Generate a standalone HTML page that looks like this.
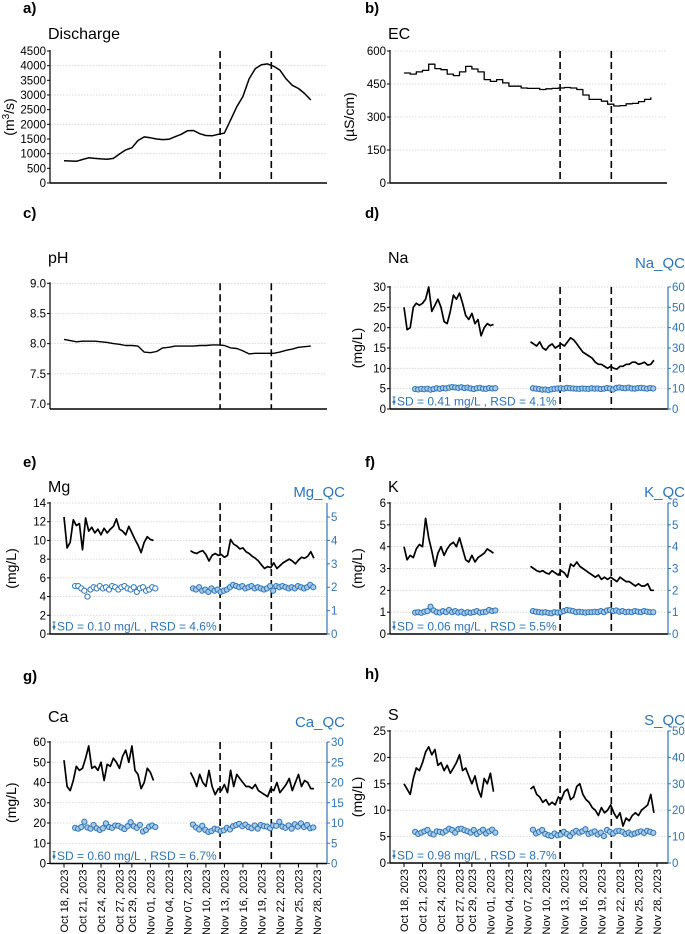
<!DOCTYPE html>
<html><head><meta charset="utf-8"><style>
html,body{margin:0;padding:0;background:#fff;}
svg{display:block;font-family:"Liberation Sans",sans-serif;}
</style></head><body>
<svg id="chart" width="685" height="934" viewBox="0 0 685 934" xmlns="http://www.w3.org/2000/svg"></svg>
<script>
// ---------- DATA ----------
const eventDays=[25.3,33.6];
const tickDays=[0,3,6,9,11,14,17,20,23,26,29,32,35,38,41];
const tickLabels=['Oct 18, 2023','Oct 21, 2023','Oct 24, 2023','Oct 27, 2023','Oct 29, 2023','Nov 01, 2023','Nov 04, 2023','Nov 07, 2023','Nov 10, 2023','Nov 13, 2023','Nov 16, 2023','Nov 19, 2023','Nov 22, 2023','Nov 25, 2023','Nov 28, 2023'];
const segStarts=[0,20.5];
const qcStarts=[1.8,20.9];
const dischargeVals=[760,750,740,800,860,840,820,810,840,990,1130,1200,1450,1570,1540,1500,1480,1490,1580,1660,1780,1790,1680,1620,1610,1660,1700,2150,2600,2950,3550,3900,4030,4060,3980,3850,3550,3330,3220,3050,2830];
const ecVals=[500,495,505,512,540,520,515,495,488,505,530,518,505,470,462,470,455,440,440,432,430,430,425,428,430,432,434,432,425,400,380,380,372,358,350,352,360,362,370,380,390];
const phVals=[8.07,8.05,8.03,8.04,8.04,8.04,8.03,8.02,8.0,7.99,7.97,7.97,7.96,7.86,7.85,7.87,7.93,7.94,7.96,7.96,7.96,7.96,7.97,7.97,7.98,7.98,7.97,7.93,7.92,7.88,7.83,7.84,7.84,7.84,7.84,7.86,7.89,7.91,7.94,7.95,7.96];
const naSeg1=[25,19.5,20,25,26,25.5,26,27,30,24,25.5,27,25,21.5,21,24,28,27,28.5,26,23,22,23.5,21,22,18,20,21,20.5,20.8];
const naSeg2=[16.5,16,15.5,16.5,15,14.5,15.5,16,15,15.5,16,15.5,16.5,17.5,17,16,15,14,13.5,13,12.5,11.5,11,11,10.5,10,10.5,10,9.8,10.5,10.5,11,11,11.5,11.5,11,11.2,11.5,10.8,11,12];
const naQc1=[9.8,9.6,9.9,9.7,10,9.5,9.8,10.2,9.9,10.3,10.1,10.5,10.8,10.6,10.4,10.7,10.3,10.5,10.1,9.8,10.2,10.4,10,9.9,10.3,10.1,10.2];
const naQc2=[10.2,10,9.8,9.5,9.6,9.3,9.7,9.9,10.1,10.2,10,10.4,10.2,10.1,10,9.9,10.1,10,9.9,10.2,10,10.1,9.8,10,10.3,10.1,9.6,10.4,10.6,10.3,10.2,10.5,10.1,10,10.3,10.4,10.2,10,10.3,10.1];
const mgSeg1=[12.5,9.2,9.8,12.2,11.6,11.8,9,12.4,11,11.4,10.8,11.2,10.6,11.3,10.8,11.2,11.5,12.3,11.2,11,10.6,11.5,10.8,10.1,9.5,8.7,9.8,10.4,10.1,10];
const mgSeg2=[8.9,8.7,8.6,8.8,8.9,8.5,7.8,8.4,8.6,8.4,8.5,8.2,8.4,10.1,9.6,9.4,9.1,9.2,8.8,8.6,8.3,8.1,7.8,7.4,7.0,7.2,7.1,7.6,7.0,7.3,7.6,7.8,8.0,7.8,7.5,7.9,8.2,8.1,8.3,8.8,8.1];
const mgQc1=[2.05,2.05,1.95,1.85,1.6,1.9,2.0,1.95,2.05,1.95,2.0,1.9,2.05,2.0,1.9,2.0,2.05,1.95,1.9,2.0,1.8,1.95,2.0,1.85,1.9,2.0,1.95];
const mgQc2=[1.95,1.9,2.0,1.85,1.9,1.8,1.95,1.85,1.9,1.8,1.85,1.9,2.0,2.1,2.05,2.0,2.05,1.95,2.0,2.05,1.95,2.0,1.95,1.9,1.95,2.05,1.85,2.05,2.0,2.05,2.0,1.95,2.0,1.95,2.05,2.0,1.95,2.0,2.1,2.0];
const kSeg1=[4.0,3.4,3.6,3.5,3.9,4.1,4.0,5.3,4.4,3.8,3.1,3.7,4.0,3.6,3.9,4.1,4.2,4.0,4.4,3.9,3.4,3.3,3.6,3.3,3.5,3.6,3.7,3.9,3.8,3.7];
const kSeg2=[3.1,3.0,2.9,2.85,2.9,2.8,2.75,2.9,2.8,2.7,2.9,2.8,2.6,3.2,3.1,3.3,3.1,3.0,2.9,2.8,2.7,2.6,2.7,2.5,2.6,2.5,2.6,2.5,2.4,2.6,2.5,2.4,2.4,2.3,2.2,2.3,2.2,2.2,2.3,2.0,2.0];
const kQc1=[0.98,1.0,0.97,1.02,1.05,1.25,1.08,1.0,0.98,1.05,1.0,1.1,1.0,1.05,0.98,1.02,0.95,1.0,0.97,1.0,1.05,0.98,1.0,1.02,1.1,1.05,1.08];
const kQc2=[1.05,1.02,1.0,0.98,1.0,0.97,0.95,1.0,0.98,1.0,1.05,1.1,1.08,1.05,1.0,1.02,1.0,0.98,1.0,1.0,1.02,1.0,1.05,1.0,1.08,1.1,1.05,1.08,1.02,1.05,1.0,1.02,1.0,1.05,1.02,1.0,1.05,1.02,1.0,1.0];
const caSeg1=[51,38,36,41,48,46,47,52,58,47,48,46,50,41,49,48,52,50,47,53,56,50,58,46,44,37,40,47,45,41];
const caSeg2=[45,42,38,44,40,38,46,38,34,37,36,39,35,46,38,44,42,40,38,38,37,39,36,35,34,33,37,36,40,35,37,39,42,36,40,44,38,41,40,37,37];
const caQc1=[8.8,8.6,9.0,10.3,8.9,8.6,9.5,8.7,8.3,8.7,9.9,9.0,8.8,9.4,9.3,8.9,8.5,9.2,10.2,9.2,8.8,9.5,7.9,8.3,9.1,9.4,9.0];
const caQc2=[9.6,8.9,8.4,9.3,8.3,7.8,8.0,8.6,8.4,8.0,8.2,8.8,8.4,9.2,9.5,9.8,9.2,9.6,9.0,8.7,9.4,8.6,9.5,9.2,9.1,8.7,9.4,9.3,10.3,9.1,8.8,9.4,8.6,9.7,9.1,9.9,9.0,9.5,8.7,8.9];
const sSeg1=[15,14,13,16,18,17.5,19,21,22,20.5,21.5,18.5,19,17.5,18.5,17,18,19,20.5,17.5,18,16.5,15,16.5,14,12.5,16,15,17,13.5];
const sSeg2=[14,14.5,13,12.5,11.5,12,11,11.5,11,12.5,12,13.5,14,12,12.5,14.5,15,13,12,11.5,10.5,10,9,10.5,9.5,10,11,9.5,8.5,9.5,7,8.5,8,9,9.5,9,10,10.5,11,13,9.5];
const sQc1=[11.8,11,11.5,12,12.5,11.2,10.8,12,11.8,11.5,12.2,13,12.5,11.5,12.8,13,12.4,12,11.5,12.5,11,11.8,12.6,11.2,12,12.6,11.5];
const sQc2=[12.6,11.2,11.8,12.5,11,10.5,10.2,11.2,10.5,10.8,11.8,11,10.2,11.5,12.2,11.5,12,12.8,11,11.5,12,10.8,11.5,10.2,12.5,11.8,11.2,12,12.2,11.8,11,11.5,10.8,11.2,11.6,12,11.4,12.2,11.8,11.4];

// ---------- DRAWING ----------
const NS='http://www.w3.org/2000/svg';
const svg=document.getElementById('chart');
const BLUE='#2e75b6';
function mk(tag,attrs,parent){const e=document.createElementNS(NS,tag);for(const k in attrs)e.setAttribute(k,attrs[k]);(parent||svg).appendChild(e);return e;}
function txt(str,attrs,parent){const e=mk('text',attrs,parent);e.textContent=str;return e;}
const PXDAY=6.17;

function makePanel(c){
  const g=mk('g',{});
  
  
  c.g=g;
  c.x=t=>c.ox+PXDAY*t;
  c.y=v=>c.y0-(v-c.vmin)/(c.vmax-c.vmin)*(c.y0-c.y1);
  if(c.rvmax)c.ry=v=>c.y0-v/c.rvmax*(c.y0-c.y1);
  c.ticks.forEach(v=>{
    if(v===c.vmin)return;
    if(c.gridOnly&&c.gridOnly.indexOf(v)<0)return;
    const l=mk('line',{x1:c.ax+1,x2:c.ar,y1:c.y(v),y2:c.y(v),stroke:'#d0d0d0','stroke-width':0.8,'stroke-dasharray':'1.5,1.5'},g);
    
    
  });
  const ya=mk('line',{x1:c.ax,x2:c.ax,y1:c.y1-1,y2:c.axb,stroke:'#000','stroke-width':1.2},g);
  
  
  c.ticks.forEach(v=>{
    mk('line',{x1:c.ax-3,x2:c.ax,y1:c.y(v),y2:c.y(v),stroke:'#000','stroke-width':1},g);
    const t=txt(c.fmt?c.fmt(v):String(v),{x:c.ax-4,y:c.y(v)+4,'text-anchor':'end','font-size':11.5,fill:'#000'},g);
    
    
  });
  const xa=mk('line',{x1:c.ax,x2:c.ar,y1:c.axb,y2:c.axb,stroke:'#000','stroke-width':1.4},g);
  
  
  if(c.rvmax){
    const ra=mk('line',{x1:c.ar,x2:c.ar,y1:c.y1,y2:c.y0,stroke:BLUE,'stroke-width':1.2},g);
    
    
    c.rticks.forEach(v=>{
      mk('line',{x1:c.ar,x2:c.ar+3,y1:c.ry(v),y2:c.ry(v),stroke:BLUE,'stroke-width':1},g);
      const t=txt(String(v),{x:c.ar+4,y:c.ry(v)+4,'font-size':11.5,fill:BLUE},g);
      
      
    });
    const ql=txt(c.qcLabel,{x:c.qcX,y:c.titleY+5,'text-anchor':'end','font-size':15,fill:BLUE},g);
    
    
  }
  eventDays.forEach(d=>{
    const l=mk('line',{x1:c.x(d),x2:c.x(d),y1:c.y1,y2:c.axb,stroke:'#000','stroke-width':1.6,'stroke-dasharray':'7,4'},g);
    
    
  });
  const pl=txt(c.letter,{x:c.letterX,y:c.letterY,'font-size':15,'font-weight':'bold'},g);
  
  
  const ti=txt(c.title,{x:c.titleX,y:c.titleY,'font-size':16},g);
  
  
  const yc=(c.y0+c.y1)/2;
  const yl=txt('',{x:0,y:0,'text-anchor':'middle','font-size':14,transform:'translate('+c.ylx+','+yc+') rotate(-90)'},g);
  
  
  if(c.ylab==='m3'){yl.appendChild(document.createTextNode('(m'));const s=mk('tspan',{dy:-5,'font-size':10},yl);s.textContent='3';const s2=mk('tspan',{dy:5},yl);s2.textContent='/s)';}
  else yl.textContent=c.ylab;
  return c;
}
function linePath(c,start,step,vals,stepped){
  let d='';
  vals.forEach((v,i)=>{
    const x=c.x(start+i*step),y=c.y(v);
    if(i===0)d+='M'+x.toFixed(1)+','+y.toFixed(1);
    else if(stepped)d+='H'+x.toFixed(1)+'V'+y.toFixed(1);
    else d+='L'+x.toFixed(1)+','+y.toFixed(1);
  });
  return d;
}
function drawSeries(c,start,step,vals,name,stepped,w){
  const p=mk('path',{d:linePath(c,start,step,vals,stepped),fill:'none',stroke:'#000','stroke-width':w||1.7,'stroke-linejoin':'round'},c.g);
  
  
}
function drawQc(c,start,vals,name,fill){
  const g=mk('g',{},c.g);
  
  
  vals.forEach((v,i)=>{
    const pt=mk('circle',{cx:c.x(start+i*0.5),cy:c.ry(v),r:2.6,fill:fill||'#a9cbe8',stroke:BLUE,'stroke-width':1},g);
    
    
  });
}
function sdNote(c,str){
  const x=c.ax+4,y=c.y0-8;
  mk('line',{x1:x,x2:x,y1:y-4,y2:y+4,stroke:BLUE,'stroke-width':1},c.g);
  mk('line',{x1:x-1.5,x2:x+1.5,y1:y-4,y2:y-4,stroke:BLUE,'stroke-width':1},c.g);
  mk('circle',{cx:x,cy:y+1,r:1.5,fill:BLUE},c.g);
  const t=txt(str,{x:x+3,y:y+4.5,'font-size':12,fill:BLUE},c.g);
  
  
}
function range(a,b,s){const r=[];for(let v=a;v<=b+1e-9;v+=s)r.push(Math.round(v*10)/10);return r;}
const L={ox:64,ax:50,ar:327,letterX:23,ylx:16,titleX:48,qcX:345};
const R={ox:404,ax:390,ar:668,letterX:365,ylx:362,titleX:388,qcX:685};

const pa=makePanel(Object.assign({},L,{name:'panel-a-discharge',letter:'a)',letterY:13,title:'Discharge',titleY:39,y0:183,y1:51,axb:183,vmin:0,vmax:4500,ticks:range(0,4500,500),gridOnly:[1000,2000,3000,4000],ylab:'m3',ylx:14}));
drawSeries(pa,0,1,dischargeVals,'discharge-line',false,1.5);
const pb=makePanel(Object.assign({},R,{name:'panel-b-ec',ar:667,letter:'b)',letterY:13,title:'EC',titleY:39,y0:183,y1:51,axb:183,vmin:0,vmax:600,ticks:range(0,600,150),ylab:'(µS/cm)',ylx:354}));
drawSeries(pb,0,1,ecVals,'ec-line',true,1.3);
const pc=makePanel(Object.assign({},L,{name:'panel-c-ph',letter:'c)',letterY:218,title:'pH',titleY:263,y0:404,y1:283.3,axb:409,vmin:7,vmax:9,ticks:[7,7.5,8,8.5,9],fmt:v=>v.toFixed(1),ylab:''}));
drawSeries(pc,0,1,phVals,'ph-line',false,1.4);
const pd=makePanel(Object.assign({},R,{name:'panel-d-na',letter:'d)',letterY:218,title:'Na',titleY:263,y0:409,y1:287,axb:409,vmin:0,vmax:30,ticks:range(0,30,5),rvmax:60,rticks:range(0,60,10),qcLabel:'Na_QC',ylab:'(mg/L)'}));
drawQc(pd,qcStarts[0],naQc1,'na-qc-series-1');drawQc(pd,qcStarts[1],naQc2,'na-qc-series-2');
drawSeries(pd,segStarts[0],0.5,naSeg1,'na-line-1');drawSeries(pd,segStarts[1],0.5,naSeg2,'na-line-2');
sdNote(pd,'SD = 0.41 mg/L , RSD = 4.1%');
const pe=makePanel(Object.assign({},L,{name:'panel-e-mg',letter:'e)',letterY:467,title:'Mg',titleY:492,y0:634,y1:503,axb:634,vmin:0,vmax:14,ticks:range(0,14,2),rvmax:5.6,rticks:[0,1,2,3,4,5],qcLabel:'Mg_QC',ylab:'(mg/L)'}));
drawQc(pe,qcStarts[0],mgQc1,'mg-qc-series-1','#ffffff');drawQc(pe,qcStarts[1],mgQc2,'mg-qc-series-2');
drawSeries(pe,segStarts[0],0.5,mgSeg1,'mg-line-1');drawSeries(pe,segStarts[1],0.5,mgSeg2,'mg-line-2');
sdNote(pe,'SD = 0.10 mg/L , RSD = 4.6%');
const pf=makePanel(Object.assign({},R,{name:'panel-f-k',letter:'f)',letterY:467,title:'K',titleY:492,y0:634,y1:503,axb:634,vmin:0,vmax:6,ticks:range(0,6,1),rvmax:6,rticks:range(0,6,1),qcLabel:'K_QC',ylab:'(mg/L)'}));
drawQc(pf,qcStarts[0],kQc1,'k-qc-series-1');drawQc(pf,qcStarts[1],kQc2,'k-qc-series-2');
drawSeries(pf,segStarts[0],0.5,kSeg1,'k-line-1');drawSeries(pf,segStarts[1],0.5,kSeg2,'k-line-2');
sdNote(pf,'SD = 0.06 mg/L , RSD = 5.5%');
const pg=makePanel(Object.assign({},L,{name:'panel-g-ca',letter:'g)',letterY:681,title:'Ca',titleY:722,y0:863.5,y1:742,axb:863.5,vmin:0,vmax:60,ticks:range(0,60,10),rvmax:30,rticks:range(0,30,5),qcLabel:'Ca_QC',ylab:'(mg/L)'}));
drawQc(pg,qcStarts[0],caQc1,'ca-qc-series-1');drawQc(pg,qcStarts[1],caQc2,'ca-qc-series-2');
drawSeries(pg,segStarts[0],0.5,caSeg1,'ca-line-1');drawSeries(pg,segStarts[1],0.5,caSeg2,'ca-line-2');
sdNote(pg,'SD = 0.60 mg/L , RSD = 6.7%');
const ph=makePanel(Object.assign({},R,{name:'panel-h-s',letter:'h)',letterY:679,title:'S',titleY:720,y0:863,y1:731,axb:863,vmin:0,vmax:25,ticks:range(0,25,5),rvmax:50,rticks:range(0,50,10),qcLabel:'S_QC',ylab:'(mg/L)'}));
drawQc(ph,qcStarts[0],sQc1,'s-qc-series-1');drawQc(ph,qcStarts[1],sQc2,'s-qc-series-2');
drawSeries(ph,segStarts[0],0.5,sSeg1,'s-line-1');drawSeries(ph,segStarts[1],0.5,sSeg2,'s-line-2');
sdNote(ph,'SD = 0.98 mg/L , RSD = 8.7%');

[pg,ph].forEach(c=>{
  tickDays.forEach((d,i)=>{
    const x=c.x(d);
    mk('line',{x1:x,x2:x,y1:c.axb,y2:c.axb+4,stroke:'#000','stroke-width':1},c.g);
    const t=txt(tickLabels[i],{x:0,y:0,'text-anchor':'end','font-size':11,transform:'translate('+(x+4)+','+(c.axb+6)+') rotate(-90)'},c.g);
    
    
  });
});
</script>
</body></html>
